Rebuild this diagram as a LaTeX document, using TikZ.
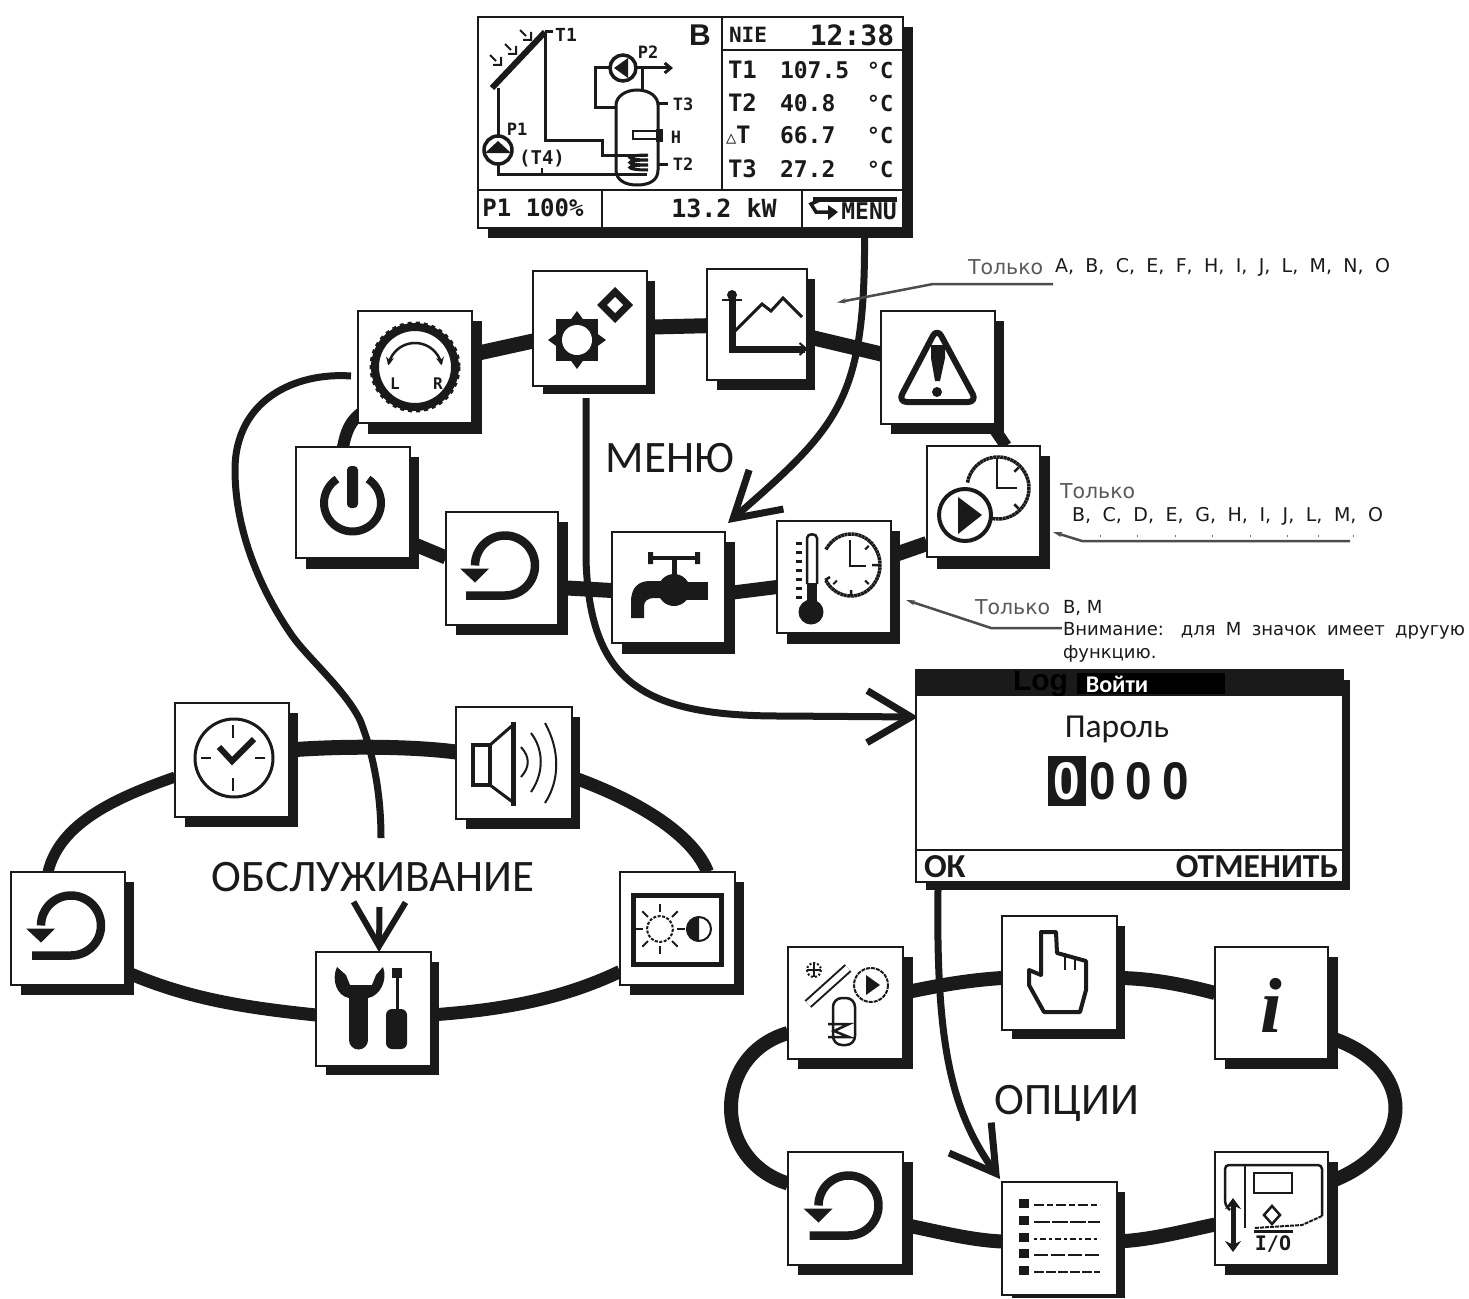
\documentclass[tikz,border=0pt]{standalone}
\usepackage{fontspec}
\setmainfont{DejaVu Sans}
\newfontfamily\lcd{DejaVu Sans Mono}
\newfontfamily\carl{Carlito}
\newfontfamily\sera{Liberation Serif}
\newfontfamily\arl{Liberation Sans}
\usetikzlibrary{arrows.meta,backgrounds}
\definecolor{ink}{HTML}{1A1A1A}
\newcommand\fsz[1]{\fontsize{#1}{#1}\selectfont}
\tikzset{
 iconbox/.style={draw=ink,line width=2.5pt,fill=white,inner sep=0,outer sep=0,rectangle},
 ring/.style={draw=ink,line width=#1,line cap=butt},
 flow/.style={draw=ink,line width=7pt},
 barb/.style={-{Straight Barb[length=44pt,width=52pt]}},
 leader/.style={draw=black!70,line width=2.5pt,-{Stealth[length=9pt,width=5pt]}},
 lab/.style={inner sep=0,outer sep=0,text=ink},
 note/.style={lab,anchor=west,font=\fsz{19}},
 grey/.style={lab,anchor=west,text=black!65,font=\fsz{20.5}},
 sect/.style={lab,font=\carl\fsz{45}},
 lcdt/.style={lab,font=\lcd\bfseries\fsz{23}},
 lcds/.style={lab,font=\lcd\bfseries\fsz{17}},
 pipe/.style={draw=ink,line width=3pt},
 dpa/.style={dash pattern=on 10pt off 3pt on 6pt off 3pt},
 dpb/.style={dash pattern=on 16pt off 2pt},
 dpc/.style={dash pattern=on 3pt off 3pt on 6pt off 3pt},
 dpd/.style={dash pattern=on 14pt off 3pt},
 dpe/.style={dash pattern=on 10pt off 2pt},
}
\newcommand\ibox[7]{%
 \fill[ink] ({#2+10},{#3+10}) rectangle (#6,#7);
 \node[iconbox,minimum width={#4-#2},minimum height={#5-#3}] (#1) at ({(#2+#4)/2},{(#3+#5)/2}) {};}
\newcommand\garc[7][]{\draw[#1] plot[domain=#6:#7,samples=48] ({#2+#4*cos(\x)},{#3+#5*sin(\x)});}
\newcommand\retsym[2]{%
 \begin{scope}[shift={(#1+3,#2-3)}]
 \draw[draw=ink,line width=8.5pt] plot[domain=180:450,samples=48] ({30*cos(\x)},{30*sin(\x)}) -- (-39,30);
 \fill[ink] (-45,3) -- (-16,3) -- (-30,17) -- cycle;
 \end{scope}}
\begin{document}
\begin{tikzpicture}[x=1pt,y=-1pt]
\useasboundingbox (0,0) rectangle (1469,1298);
\begin{scope}[on background layer]
\fill[white] (0,0) rectangle (1469,1298);
\end{scope}
% ---------- boxes
\ibox{screen}{478}{17}{903}{228}{913}{238}
\ibox{knob}{358}{311}{472}{423}{482}{434}
\ibox{gears}{533}{271}{647}{386}{655}{394}
\ibox{chart}{707}{269}{807}{380}{815}{390}
\ibox{warn}{881}{311}{995}{424}{1004}{434}
\ibox{play}{927}{446}{1040}{557}{1050}{569}
\ibox{thermo}{777}{521}{891}{633}{900}{644}
\ibox{tap}{612}{532}{725}{643}{735}{654}
\ibox{back}{446}{512}{558}{625}{568}{635}
\ibox{power}{296}{447}{410}{558}{419}{569}
\ibox{clock}{175}{703}{289}{817}{298}{827}
\ibox{speak}{456}{707}{572}{819}{580}{829}
\ibox{backb}{11}{872}{125}{985}{134}{995}
\ibox{bright}{620}{872}{735}{985}{744}{995}
\ibox{tools}{316}{952}{431}{1066}{439}{1075}
\ibox{setup}{788}{947}{903}{1059}{913}{1069}
\ibox{hand}{1002}{916}{1117}{1030}{1125}{1039}
\ibox{info}{1215}{947}{1328}{1059}{1338}{1069}
\ibox{backc}{788}{1152}{903}{1265}{913}{1275}
\ibox{list}{1002}{1182}{1117}{1295}{1125}{1298}
\ibox{io}{1215}{1152}{1328}{1265}{1338}{1275}
\ibox{login}{916}{670}{1343}{882}{1350}{890}
% ---------- connectors behind boxes
\begin{scope}[on background layer]
\draw[ring=15pt] (knob.center) -- (gears.center);
\draw[ring=15pt] (gears.center) -- (chart.center);
\draw[ring=15pt] (chart.center) -- (warn.center);
\draw[ring=12pt] ([shift={(-4,0)}]warn.south east) -- ([shift={(-34,0)}]play.north east);
\draw[ring=15pt] ([shift={(0,-21)}]thermo.east) -- ([shift={(0,42)}]play.west);
\draw[ring=14pt] ([shift={(0,6)}]tap.east) -- ([shift={(0,10)}]thermo.west);
\draw[ring=15pt] ([shift={(0,19)}]back.east) -- ([shift={(0,3)}]tap.west);
\draw[ring=14pt] ([shift={(0,40)}]power.east) -- ([shift={(0,-11)}]back.west);
\draw[ring=12pt] ([shift={(-10,0)}]power.north) .. controls (346,432) and (350,420) .. ([shift={(6,-12)}]knob.south west);
% maintenance ring
\draw[ring=11pt] ([shift={(-20,0)}]backb.north) .. controls (60,822) and (118,797) .. ([shift={(0,17)}]clock.west);
\draw[ring=15pt] ([shift={(0,-10)}]clock.east) .. controls (340,746) and (410,746) .. ([shift={(0,-11)}]speak.west);
\draw[ring=13pt] ([shift={(0,14)}]speak.east) .. controls (650,805) and (695,840) .. ([shift={(30,0)}]bright.north);
\draw[ring=13pt] ([shift={(0,43)}]bright.west) .. controls (560,1000) and (500,1010) .. ([shift={(0,6)}]tools.east);
\draw[ring=13pt] ([shift={(0,6)}]tools.west) .. controls (250,1008) and (190,1000) .. ([shift={(0,43)}]backb.east);
% options ring
\draw[ring=14pt] ([shift={(0,-10)}]setup.east) .. controls (940,985) and (970,980) .. ([shift={(0,5)}]hand.west);
\draw[ring=14pt] ([shift={(0,5)}]hand.east) .. controls (1150,978) and (1185,985) .. ([shift={(0,-10)}]info.west);
\draw[ring=14pt] ([shift={(0,34)}]info.east) .. controls (1418,1065) and (1418,1150) .. ([shift={(0,-26)}]io.east);
\draw[ring=14pt] ([shift={(0,16)}]io.west) .. controls (1180,1232) and (1150,1240) .. ([shift={(0,3)}]list.east);
\draw[ring=14pt] ([shift={(0,3)}]list.west) .. controls (970,1240) and (940,1232) .. ([shift={(0,16)}]backc.east);
\draw[ring=14pt] ([shift={(0,-25)}]backc.west) .. controls (712,1160) and (712,1055) .. ([shift={(0,30)}]setup.west);
% flow lines
\draw[flow,barb] ([shift={(174,0)}]screen.south) .. controls (866,400) and (840,425) .. ([shift={(3,-9)}]tap.north east);
\draw[flow,barb] ([shift={(-4,12)}]gears.south) -- (586,560) .. controls (590,680) and (640,716) .. (780,716) -- ([shift={(2,-59)}]login.west);
\coordinate (svcstop) at (381,838);
\draw[flow] ([shift={(-7,9)}]knob.west) .. controls (295,372) and (235,400) .. (235,470) .. controls (235,530) and (260,590) .. (293,637) .. controls (310,660) and (345,690) .. (360,720) .. controls (372,750) and (381,790) .. (svcstop);
\coordinate (svcin) at (379.5,907);
\draw[flow,line width=6pt,barb] (svcin) -- ([shift={(5.5,0)}]tools.north);
\draw[flow,barb] ([shift={(22,8)}]login.south west) .. controls (936,1040) and (950,1110) .. ([shift={(-2,-3)}]list.north west);
\end{scope}
% ---------- top screen
\draw[ink,line width=2.5pt] (722,17) -- (722,190) (478,190) -- (903,190) (722,50) -- (903,50) (602,190) -- (602,228) (802,190) -- (802,228);
\node[lab,font=\arl\bfseries\fsz{30}] (lb) at (700,35) {B};
\node[lcdt,font=\lcd\bfseries\fsz{21}] (nie) at (748,35) {NIE};
\node[lcdt,font=\lcd\bfseries\fsz{28}] (time) at (852,35) {12:38};
\foreach \n/\y/\a/\b in {a/70/T1/107.5,b/103/T2/40.8,d/169/T3/27.2}{
 \node[lcdt,font=\lcd\bfseries\fsz{24},anchor=west] (tn\n) at (728,\y) {\a};
 \node[lcdt,anchor=west] (tv\n) at (780,\y) {\b};
 \node[lcdt,font=\lcd\bfseries\fsz{22}] (tc\n) at (880,\y) {°C};}
\node[lcdt,font=\lcd\bfseries\fsz{24},anchor=west] (tnc) at (726,135) {\fsz{17}△\fsz{24}T};
\node[lcdt,anchor=west] (tvc) at (780,135) {66.7};
\node[lcdt,font=\lcd\bfseries\fsz{22}] (tcc) at (880,135) {°C};
\node[lcdt,font=\lcd\bfseries\fsz{24}] (pone) at (533,208) {P1 100\%};
\node[lcdt,font=\lcd\bfseries\fsz{25}] (pow) at (724,208) {13.2 kW};
\node[lcdt,font=\lcd\bfseries\fsz{23}] (menu) at (869,211) {MENU};
\fill[ink] (813,197) rectangle (897,202);
\draw[ink,line width=3.5pt] (822,199) -- (811,204) -- (816,212) -- (830,212);
\fill[ink] (828,205) -- (838,212) -- (828,220) -- cycle;
% schematic
\draw[ink,line width=6pt] (492,88) -- (545,32);
\draw[pipe] (545,32) -- (553,32);
\node[lcds,font=\lcd\bfseries\fsz{18}] (st1) at (566,35) {T1};
\foreach \x/\y in {490/55,505/44,520/30}{
 \draw[pipe,line width=2pt] (\x,\y) -- (\x+6,\y+6) (\x+11,\y+2) -- (\x+11,\y+10) -- (\x+3,\y+10);}
\draw[pipe] (498,88) -- (498,135) (545,32) -- (545,140) -- (602,140) -- (602,155) -- (647,155);
\draw[pipe] (498,165) -- (498,174) -- (647,174);
\draw[pipe,line width=1.5pt] (542,168) -- (542,174);
\draw[pipe,line width=3.5pt] (498,150) circle (14);
\fill[ink] (485,153) -- (498,141) -- (511,153) -- cycle;
\node[lcds] (sp1) at (517,129) {P1};
\node[lcds,font=\lcd\bfseries\fsz{19}] (st4) at (542,159) {(T4)};
\draw[pipe] (616,105) -- (616,170) .. controls (616,180) and (625,185) .. (637,185) .. controls (650,185) and (658,180) .. (658,170) -- (658,105) .. controls (658,97) and (650,90) .. (637,90) .. controls (625,90) and (616,97) .. (616,105);
\draw[pipe,line width=3pt] (648,155) .. controls (624,155) and (624,160) .. (648,160) .. controls (624,160) and (624,165) .. (648,165) .. controls (624,165) and (624,170) .. (648,170);
\draw[pipe,line width=3.5pt] (623,68) circle (13);
\fill[ink] (614,68) -- (628,58) -- (628,78) -- cycle;
\draw[pipe] (610,68) -- (595,68) -- (595,107) -- (616,107);
\draw[pipe,-{Straight Barb[length=6pt,width=10pt]}] (637,68) -- (673,68);
\draw[pipe] (642,68) -- (642,90);
\node[lcds] (sp2) at (648,52) {P2};
\draw[pipe] (658,103) -- (668,103) (658,164) -- (668,164);
\node[lcds] (st3) at (683,104) {T3};
\node[lcds] (st2) at (683,164) {T2};
\node[lcds] (sh) at (676,137) {H};
\draw[pipe,line width=2pt] (633,131) rectangle (660,139);
\fill[ink] (656,129) rectangle (663,142);
% ---------- menu icons
% knob
\draw[ink,line width=8pt] (415,367) circle (40);
\draw[ink,line width=3pt,dash pattern=on 4pt off 4pt] (415,367) circle (44);
\garc[draw=ink,line width=2.5pt,{Stealth[length=8pt,width=8pt]}-{Stealth[length=8pt,width=8pt]}]{415}{370}{27}{27}{190}{350}
\node[lcds,font=\lcd\bfseries\fsz{16}] (kl) at (395,384) {L};
\node[lcds,font=\lcd\bfseries\fsz{16}] (kr) at (438,384) {R};
% gears
\fill[ink] (556,319) rectangle (598,361);
\fill[ink] (577,311) -- (585,322) -- (569,322) -- cycle (577,369) -- (585,358) -- (569,358) -- cycle (548,340) -- (559,332) -- (559,348) -- cycle (606,340) -- (595,332) -- (595,348) -- cycle;
\fill[white] (577,340) circle (15);
\fill[ink] (615,287) -- (633,305) -- (615,323) -- (597,305) -- cycle;
\fill[white] (615,297) -- (623,305) -- (615,313) -- (607,305) -- cycle;
% chart
\draw[ink,line width=7pt,-{Straight Barb[length=7pt,width=12pt,line width=2pt]}] (732,296) -- (732,349) -- (808,349);
\fill[ink] (732,295) circle (5);
\draw[ink,line width=1.5pt] (722,300) -- (742,300);
\draw[ink,line width=3pt] (735,331) -- (762,304) -- (771,311) -- (783,298) -- (802,317);
% warning
\draw[ink,line width=6pt,rounded corners=9pt,line join=round] (937,328) -- (977,402) -- (898,402) -- cycle;
\fill[ink] (931,345) -- (945,345) -- (945,358) -- (940,381) -- (935,381) -- (931,358) -- cycle;
\fill[ink] (937,392) circle (5);
% play + clock
\garc[draw=ink,line width=3.5pt,dash pattern=on 3pt off 0.5pt]{998}{488}{31}{31}{-170}{120}
\draw[ink,line width=2.5pt] (997,458) -- (997,488) -- (1017,488);
\foreach \a in {-45,45}{\draw[ink,line width=2.5pt] ({998+23*cos(\a)},{488+23*sin(\a)}) -- ({998+29*cos(\a)},{488+29*sin(\a)});}
\draw[ink,line width=4pt,fill=white] (965,515) circle (26);
\fill[ink] (958,497) -- (982,515) -- (958,534) -- cycle;
% thermometer + clock
\draw[ink,line width=2.5pt] (807,584) -- (807,538) .. controls (807,533) and (817,533) .. (817,538) -- (817,584);
\fill[ink] (807,583) rectangle (817,605);
\fill[ink] (811,612) circle (12.5);
\foreach \y in {543,552,561,570,579,588,597}{\draw[ink,line width=3pt] (796,\y) -- (802,\y);}
\garc[draw=ink,line width=3.5pt,dash pattern=on 3pt off 0.5pt]{851}{565}{29}{31}{-150}{150}
\draw[ink,line width=2.5pt] (850,540) -- (850,566) -- (866,566);
\draw[ink,line width=2.5pt] (879,565) -- (872,565) (851,596) -- (851,590) (825,580) -- (830,577);
\foreach \a in {-45,45,135}{\draw[ink,line width=2pt] ({851+20*cos(\a)},{565+22*sin(\a)}) -- ({851+25*cos(\a)},{565+27*sin(\a)});}
% tap
\draw[ink,line width=3.5pt] (648,558) -- (700,558);
\fill[ink] (648,552) rectangle (653,564) (695,552) rectangle (700,564);
\draw[ink,line width=5pt] (674,558) -- (674,578);
\fill[ink] (674,590) circle (16);
\fill[ink] (674,582) rectangle (708,600);
\fill[ink] (664,581) -- (648,581) .. controls (636,582) and (631,590) .. (631,602) -- (631,618) -- (644,618) -- (644,606) .. controls (644,601) and (648,598) .. (654,598) -- (664,598) -- cycle;
\retsym{502}{568.5}
% power
\garc[draw=ink,line width=8pt]{352.5}{503}{28.5}{28.5}{-57}{237}
\fill[ink,rounded corners=4pt] (347,466) rectangle (358,508);
% ---------- maintenance icons
\draw[ink,line width=3pt] (234,758) circle (39);
\draw[ink,line width=2.5pt] (233,725) -- (233,738) (233,778) -- (233,791) (201,758) -- (211,758) (255,758) -- (265,758);
\draw[ink,line width=6pt] (219,747) -- (232,761) -- (254,739);
\draw[ink,line width=4pt] (473,745) rectangle (490,785);
\draw[ink,line width=3pt,line join=round] (490,745) -- (514,724) -- (514,803) -- (490,785);
\fill[ink] (511,722) rectangle (516,806);
\draw[ink,line width=2pt] (521,747) .. controls (530,757) and (530,767) .. (521,777);
\draw[ink,line width=2pt] (531,733) .. controls (544,750) and (544,773) .. (531,792);
\draw[ink,line width=2pt] (545,723) .. controls (560,750) and (560,780) .. (545,803);
\retsym{68}{928.5}
\draw[ink,line width=5pt] (633,895) rectangle (721,964);
\draw[ink,line width=2pt,dash pattern=on 3pt off 1.5pt] (660,929) circle (13);
\foreach \a in {0,45,...,315}{\draw[ink,line width=1.8pt] ({660+17*cos(\a)},{929+17*sin(\a)}) -- ({660+25*cos(\a)},{929+25*sin(\a)});}
\draw[ink,line width=2pt] (699,929) circle (12);
\garc[fill=ink,draw=ink,line width=1pt]{699}{929}{12}{12}{90}{270}
\fill[ink] (349,988) rectangle (368,1040);
\fill[ink] (358.5,1040) circle (9.5);
\fill[ink] (337,967) .. controls (331,980) and (337,996) .. (349,998) -- (368,998) .. controls (380,996) and (388,980) .. (383,967) -- (376,975) -- (372,985) -- (350,985) -- (346,975) -- cycle;
\fill[ink] (392,968) rectangle (402,978);
\draw[ink,line width=3pt] (397,975) -- (397,1012);
\fill[ink,rounded corners=6pt] (386,1009) rectangle (407,1049);
% ---------- options icons
\draw[ink,line width=2pt,dash pattern=on 2pt off 2pt] (814,970) circle (7);
\draw[ink,line width=2pt] (807,970) -- (821,970) (814,963) -- (814,977);
\draw[ink,line width=10pt] (808,1004) -- (848,968);
\draw[white,line width=6pt] (808,1004) -- (848,968);
\draw[ink,line width=2pt,dash pattern=on 4pt off 1pt] (871,985) circle (17);
\fill[ink] (866,975) -- (880,985) -- (866,995) -- cycle;
\draw[ink,line width=2.5pt,rounded corners=9pt] (833,998) rectangle (855,1045);
\draw[ink,line width=2.5pt] (828,1024) -- (849,1024) -- (834,1031) -- (849,1037) -- (828,1037);
\draw[ink,line width=4pt,line join=round] (1041,975) -- (1041,932) -- (1056,932) -- (1057,953) -- (1086,961) -- (1086,990) -- (1080,1012) -- (1044,1012) -- (1029,985) -- (1029,970) -- cycle;
\draw[ink,line width=2pt] (1065,953) -- (1065,970) (1075,957) -- (1075,970);
\node[lab,font=\sera\bfseries\itshape\fsz{78},text=ink] (ii) at (1271,1005) {i};
\retsym{845.5}{1208.5}
\foreach \y/\d in {1203/dpa,1220/dpb,1237/dpc,1253/dpd,1270/dpe}{
 \fill[ink] (1019,\y-4.5) rectangle (1029,\y+4.5);
 \draw[ink,line width=2.5pt,\d] (1034,\y+2) -- (1100,\y+2);}
\draw[ink,line width=2.5pt,rounded corners=4pt] (1230,1210) -- (1225,1205) -- (1225,1165) -- (1322,1165) -- (1322,1216);
\draw[ink,line width=2pt,dash pattern=on 4pt off 1pt] (1322,1216) -- (1302,1225) -- (1254,1228);
\draw[ink,line width=2.5pt] (1245,1165) -- (1245,1228);
\draw[ink,line width=2.5pt] (1254,1173) rectangle (1292,1193);
\draw[ink,line width=2.5pt] (1272,1206) -- (1280,1215) -- (1272,1224) -- (1264,1215) -- cycle;
\draw[ink,line width=3pt] (1254,1231) -- (1293,1231);
\draw[ink,line width=5pt,{Stealth[length=11pt,width=16pt]}-{Stealth[length=11pt,width=16pt]}] (1233,1198) -- (1233,1252);
\node[lab,font=\lcd\bfseries\fsz{20}] (iotx) at (1273,1244) {I/O};
% ---------- login
\fill[ink] (916,670) rectangle (1343,696);
\begin{scope}
\clip (1010,671) rectangle (1078,695);
\node[lab,font=\arl\bfseries\fsz{30},text=black,anchor=west] (logt) at (1013,683) {Log};
\end{scope}
\fill[black] (1077,673) rectangle (1225,694);
\node[lab,font=\carl\bfseries\fsz{24},text=white] (loginh) at (1117,684) {Войти};
\node[lab,font=\carl\fsz{33.5}] (pwd) at (1117,729) {Пароль};
\fill[ink] (1048,756) rectangle (1086,806);
\foreach \x/\c/\n in {1067/white/da,1103/ink/db,1139/ink/dc,1176/ink/dd}{
 \node[lab,text=\c,font=\arl\bfseries\fsz{53}] (\n) at (\x,781) {\scalebox{0.9}[1]{0}};}
\draw[ink,line width=2.5pt] (916,850) -- (1343,850);
\node[lab,anchor=west,font=\carl\bfseries\fsz{33.5}] (okb) at (924,867) {ОК};
\node[lab,anchor=east,font=\carl\bfseries\fsz{33.5}] (cancel) at (1338,867) {ОТМЕНИТЬ};
% ---------- section labels
\node[sect] (smenu) at (670,458) {МЕНЮ};
\node[sect] (ssvc) at (373,877) {ОБСЛУЖИВАНИЕ};
\node[sect] (sopt) at (1067,1103) {ОПЦИИ};
% ---------- notes
\node[grey] (n1a) at (968,267) {Только};
\node[note] (n1b) at (1055,267) {\makebox[335pt][s]{A, B, C, E, F, H, I, J, L, M, N, O}};
\node[grey] (n2a) at (1060,491) {Только};
\node[note] (n2b) at (1072,516) {\makebox[311pt][s]{B, C, D, E, G, H, I, J, L, M, O}};
\node[grey] (n3a) at (975,607) {Только};
\node[note,font=\fsz{18}] (n3b) at (1063,608) {B, M};
\node[note,font=\fsz{18}] (n3c) at (1063,631) {\makebox[402pt][s]{Внимание: для М значок имеет другую}};
\node[note,font=\fsz{18}] (n3d) at (1063,654) {функцию.};
\coordinate (la) at (1053,284);
\coordinate (lae) at (933,284);
\draw[leader] (la) -- (lae) -- ([shift={(30,-22)}]chart.east);
\coordinate (lb2) at (1350,541);
\coordinate (lbe) at (1082,541);
\draw[leader] (lb2) -- (lbe) -- ([shift={(13,30.5)}]play.east);
\foreach \x in {1100,1137,1175,1212,1250,1287,1318,1353}{\draw[black!55,line width=1pt] (\x,535) -- (\x,537);}
\coordinate (lc) at (1062,628);
\coordinate (lce) at (991,628);
\draw[leader] (lc) -- (lce) -- ([shift={(15,23)}]thermo.east);
\end{tikzpicture}
\end{document}
